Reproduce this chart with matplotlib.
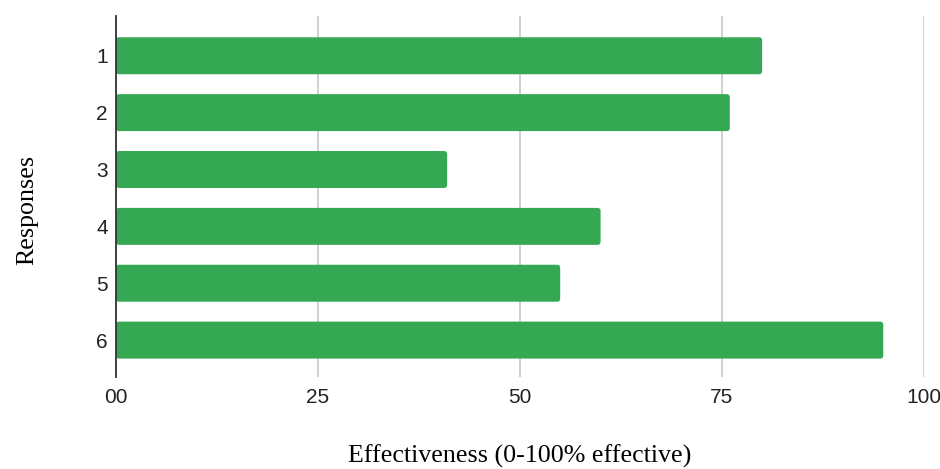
import numpy as np
from matplotlib import pyplot as plt
from matplotlib.patches import FancyBboxPatch

responses = ['1', '2', '3', '4', '5', '6']
effectiveness = [80, 76, 41, 60, 55, 95]
x_ticks = [0, 25, 50, 75, 100]
x_tick_labels = ['00', '25', '50', '75', '100']

fig = plt.figure(figsize=(9.4, 4.69), dpi=100)
ax = fig.add_axes([0.1234, 0.196, 0.8592, 0.770])

y = np.arange(len(responses))
bars = ax.barh(y, effectiveness, height=0.65, color='#34a853', zorder=3)

# swap the plain rectangles for ones with slightly rounded corners
for rect in bars.patches:
    rounded = FancyBboxPatch((rect.get_x(), rect.get_y()), rect.get_width(), rect.get_height(),
                             boxstyle='round,pad=0,rounding_size=0.4', mutation_aspect=0.14,
                             facecolor='#34a853', edgecolor='none', zorder=3)
    rect.remove()
    ax.add_patch(rounded)

ax.set_xlim(0, 100)
ax.set_ylim(5.65, -0.7)
ax.set_yticks(y)
ax.set_yticklabels(responses, family='Liberation Sans', fontsize=15, color='#222222')
ax.set_xticks(x_ticks)
ax.set_xticklabels(x_tick_labels, family='Liberation Sans', fontsize=15, color='#222222')
ax.tick_params(axis='both', length=0)
ax.tick_params(axis='x', pad=8)
ax.tick_params(axis='y', pad=6)

ax.grid(True, axis='x', color='#cccccc', linewidth=1.3, zorder=0)
for side in ['top', 'right', 'bottom']:
    ax.spines[side].set_visible(False)
ax.spines['left'].set_color('#333333')
ax.spines['left'].set_linewidth(1.3)
ax.spines['left'].set_zorder(4)

ax.set_xlabel('Effectiveness (0-100% effective)', family='Liberation Serif',
              fontsize=18.7, va='center')
ax.xaxis.set_label_coords(0.5, -0.219)
ax.set_ylabel('Responses', family='Liberation Serif', fontsize=18.7, va='center')
ax.yaxis.set_label_coords(-0.11, 0.463)

plt.savefig('out.png', dpi=100)
